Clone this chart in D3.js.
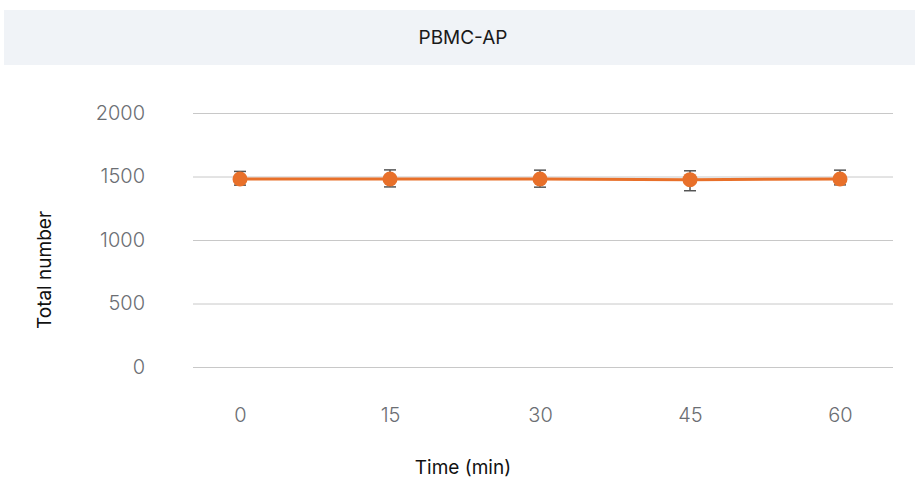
<!DOCTYPE html>
<html><head><meta charset="utf-8">
<script src="https://cdn.jsdelivr.net/npm/d3@7"></script>
<style>body{margin:0;background:#fff;font-family:Inter,"Noto Sans",sans-serif;}</style>
</head><body>
<svg id="c" width="915" height="480"></svg>
<script>
const title = "PBMC-AP";
const times = ["0","15","30","45","60"];
const means = [1480,1480,1480,1475,1480];
const lows  = [1432,1418,1416,1388,1434];
const highs = [1540,1552,1550,1545,1550];
const yTicks = [0,500,1000,1500,2000];

const svg = d3.select("#c");
svg.append("rect").attr("x",4).attr("y",10).attr("width",911).attr("height",55).attr("fill","#f0f3f7");
svg.append("text").attr("x",463).attr("y",44).attr("text-anchor","middle")
  .attr("font-size",19).attr("fill","#1a1a1a").text(title);

const x = d3.scalePoint().domain(times).range([190,890]).padding(1/3);
const y = d3.scaleLinear().domain([0,2000]).range([367,113]);

const gy = svg.append("g").attr("transform","translate(193,0)")
  .call(d3.axisLeft(y).tickValues(yTicks).tickFormat(d3.format("d")).tickSize(-700).tickPadding(48));
gy.select(".domain").remove();
gy.selectAll(".tick line").attr("stroke","#c8c8c8").attr("stroke-width",1);
gy.selectAll(".tick text").attr("fill","#6b6e73").attr("font-size",20).attr("font-weight",300).attr("font-family","Inter,sans-serif");

const gx = svg.append("g").attr("transform","translate(0,367)")
  .call(d3.axisBottom(x).tickSize(0).tickPadding(41));
gx.select(".domain").remove();
gx.selectAll(".tick text").attr("fill","#6b6e73").attr("font-size",20).attr("font-weight",300).attr("font-family","Inter,sans-serif");

svg.append("text").attr("transform","translate(51,270) rotate(-90)").attr("text-anchor","middle")
  .attr("font-size",19).attr("fill","#111").text("Total number");
svg.append("text").attr("x",463).attr("y",474).attr("text-anchor","middle")
  .attr("font-size",19).attr("fill","#111").text("Time (min)");

const data = times.map((t,i)=>({t,m:means[i],lo:lows[i],hi:highs[i]}));
svg.append("path").datum(data)
  .attr("d",d3.line().x(d=>x(d.t)).y(d=>y(d.m)))
  .attr("fill","none").attr("stroke","#e8702a").attr("stroke-width",3);

const eb = svg.append("g").selectAll("g").data(data).join("g");
eb.append("line").attr("x1",d=>x(d.t)).attr("x2",d=>x(d.t)).attr("y1",d=>y(d.lo)).attr("y2",d=>y(d.hi))
  .attr("stroke","#555").attr("stroke-width",1.5);
eb.append("line").attr("x1",d=>x(d.t)-6).attr("x2",d=>x(d.t)+6).attr("y1",d=>y(d.lo)).attr("y2",d=>y(d.lo))
  .attr("stroke","#555").attr("stroke-width",1.5);
eb.append("line").attr("x1",d=>x(d.t)-6).attr("x2",d=>x(d.t)+6).attr("y1",d=>y(d.hi)).attr("y2",d=>y(d.hi))
  .attr("stroke","#555").attr("stroke-width",1.5);
eb.append("circle").attr("cx",d=>x(d.t)).attr("cy",d=>y(d.m)).attr("r",7.5).attr("fill","#e8702a");
</script>
</body></html>
